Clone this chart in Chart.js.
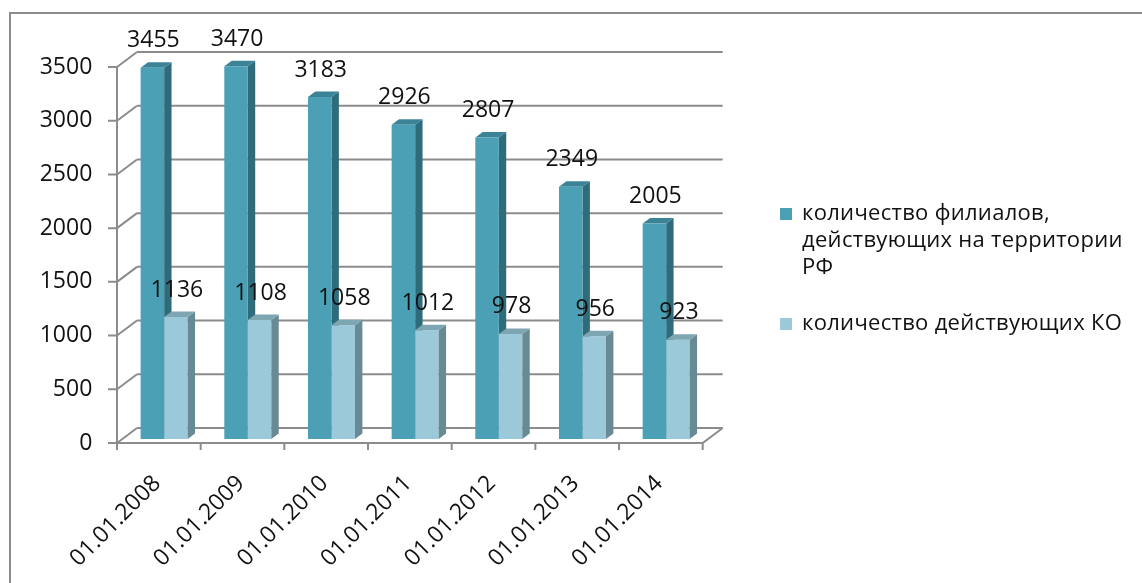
<!DOCTYPE html>
<html lang="ru">
<head>
<meta charset="utf-8">
<title>Филиалы и кредитные организации</title>
<script src="https://cdn.jsdelivr.net/npm/chart.js@4/dist/chart.umd.min.js"></script>
<style>
  html, body { margin: 0; padding: 0; background: #fff; }
  #wrap { position: relative; width: 1142px; height: 583px; overflow: hidden; }
  #chart { position: absolute; left: 0; top: 0; }
  .legend { position: absolute; left: 780px; font-family: "Open Sans", sans-serif; font-size: 22px; letter-spacing: 0.3px; color: #111; line-height: 27px; white-space: nowrap; }
  .legend .item { position: relative; padding-left: 22px; }
  .legend .sw { position: absolute; left: 0; width: 12px; height: 12px; }
</style>
</head>
<body>
<div id="wrap">
  <canvas id="chart" width="1142" height="583"></canvas>
  <div class="legend" style="top:198px">
    <div class="item"><span class="sw" style="top:10px;background:#4BA0B6"></span>количество филиалов,<br>действующих на территории<br>РФ</div>
  </div>
  <div class="legend" style="top:308px">
    <div class="item"><span class="sw" style="top:10px;background:#9CC9D9"></span>количество действующих КО</div>
  </div>
</div>
<script>
// Dates of the reporting points
const categories = ['01.01.2008', '01.01.2009', '01.01.2010', '01.01.2011', '01.01.2012', '01.01.2013', '01.01.2014'];
// Branches operating in Russia
const branches = [3455, 3470, 3183, 2926, 2807, 2349, 2005];
// Operating credit institutions
const banks = [1136, 1108, 1058, 1012, 978, 956, 923];
// Value axis ticks
const yTicks = [0, 500, 1000, 1500, 2000, 2500, 3000, 3500];

const seriesNames = ['количество филиалов, действующих на территории РФ', 'количество действующих КО'];

const FONT = '"Open Sans", sans-serif';
const GRID = '#8c8c8c';
// Oblique projection: bar front plane is the chart area;
// the axis front edge sits slightly forward, the back wall further behind.
const FRONT = { dx: -5.3, dy: 4 };
const BACK = { dx: 14.7, dy: -11 };
const DEPTH = { dx: 7.4, dy: -5.5 };

const faces = [
  { front: '#4BA0B6', side: '#2F6C7B', top: '#3C8397' },
  { front: '#9CC9D9', side: '#688A94', top: '#7EA6B2' }
];

function drawSideTop(ctx, el, c) {
  const l = el.x - el.width / 2, r = el.x + el.width / 2;
  const t = el.y, b = el.base;
  ctx.fillStyle = c.side;
  ctx.beginPath();
  ctx.moveTo(r, t); ctx.lineTo(r + DEPTH.dx, t + DEPTH.dy);
  ctx.lineTo(r + DEPTH.dx, b + DEPTH.dy); ctx.lineTo(r, b);
  ctx.closePath(); ctx.fill();
  ctx.fillStyle = c.top;
  ctx.beginPath();
  ctx.moveTo(l, t); ctx.lineTo(l + DEPTH.dx, t + DEPTH.dy);
  ctx.lineTo(r + DEPTH.dx, t + DEPTH.dy); ctx.lineTo(r, t);
  ctx.closePath(); ctx.fill();
}

const frame3d = {
  id: 'frame3d',
  beforeDraw(chart) {
    const ctx = chart.ctx;
    ctx.save();
    ctx.strokeStyle = GRID;
    ctx.lineWidth = 2;
    ctx.strokeRect(10, 13, 1200, 700);
    ctx.restore();
  },
  beforeDatasetsDraw(chart) {
    const ctx = chart.ctx, area = chart.chartArea;
    const y = chart.scales.y;
    ctx.save();
    ctx.strokeStyle = GRID;
    ctx.lineWidth = 2;
    const fx0 = area.left + FRONT.dx, fx1 = area.right + FRONT.dx;
    const bx0 = area.left + BACK.dx, bx1 = area.right + BACK.dx;
    ctx.beginPath();
    yTicks.forEach(v => {
      const p = y.getPixelForValue(v);
      // back wall line, side wall diagonal and tick mark
      ctx.moveTo(bx0, p + BACK.dy); ctx.lineTo(bx1, p + BACK.dy);
      ctx.moveTo(fx0, p + FRONT.dy); ctx.lineTo(bx0, p + BACK.dy);
      ctx.moveTo(fx0 - 9, p + FRONT.dy); ctx.lineTo(fx0, p + FRONT.dy);
    });
    const z = y.getPixelForValue(0);
    const top = y.getPixelForValue(yTicks[yTicks.length - 1]);
    ctx.moveTo(fx0, top + FRONT.dy); ctx.lineTo(fx0, z + FRONT.dy);
    ctx.moveTo(fx0, z + FRONT.dy); ctx.lineTo(fx1, z + FRONT.dy);
    ctx.lineTo(bx1, z + BACK.dy);
    const cw = (area.right - area.left) / categories.length;
    for (let i = 0; i <= categories.length; i++) {
      const px = area.left + i * cw + FRONT.dx;
      ctx.moveTo(px, z + FRONT.dy); ctx.lineTo(px, z + FRONT.dy + 7);
    }
    ctx.stroke();
    ctx.restore();
    // side and top faces of the rear-left series
    const meta = chart.getDatasetMeta(0);
    ctx.save();
    meta.data.forEach(el => drawSideTop(ctx, el, faces[0]));
    ctx.restore();
  },
  afterDatasetsDraw(chart) {
    const ctx = chart.ctx;
    ctx.save();
    chart.getDatasetMeta(1).data.forEach(el => drawSideTop(ctx, el, faces[1]));
    // value labels
    ctx.fillStyle = '#111';
    ctx.font = '23px ' + FONT;
    ctx.textAlign = 'center';
    ctx.textBaseline = 'middle';
    chart.data.datasets.forEach((ds, di) => {
      chart.getDatasetMeta(di).data.forEach((el, i) => {
        ctx.fillText(String(ds.data[i]), el.x + 1, el.y - 27);
      });
    });
    ctx.restore();
  }
};

new Chart(document.getElementById('chart'), {
  type: 'bar',
  data: {
    labels: categories,
    datasets: [
      { label: seriesNames[0], data: branches, backgroundColor: faces[0].front, borderWidth: 0 },
      { label: seriesNames[1], data: banks, backgroundColor: faces[1].front, borderWidth: 0 }
    ]
  },
  options: {
    responsive: false,
    animation: false,
    devicePixelRatio: 1,
    events: [],
    layout: { padding: { left: 0, top: 63, right: 434, bottom: 0 } },
    datasets: { bar: { categoryPercentage: 0.562, barPercentage: 1 } },
    plugins: { legend: { display: false }, tooltip: { enabled: false } },
    scales: {
      x: {
        grid: { display: false },
        border: { display: false },
        afterFit(s) { s.height = 144; },
        ticks: {
          maxRotation: 45, minRotation: 45, autoSkip: false,
          labelOffset: -7, padding: 23,
          color: '#111', font: { family: FONT, size: 23 }
        }
      },
      y: {
        min: 0, max: 3500,
        grid: { display: false, drawTicks: false },
        border: { display: false },
        afterFit(s) { s.width = 122.3; },
        afterBuildTicks(s) { s.ticks = yTicks.map(v => ({ value: v })); },
        ticks: {
          padding: 30, labelOffset: 4,
          callback: v => String(v),
          color: '#111', font: { family: FONT, size: 23 }
        }
      }
    }
  },
  plugins: [frame3d]
});
</script>
</body>
</html>
